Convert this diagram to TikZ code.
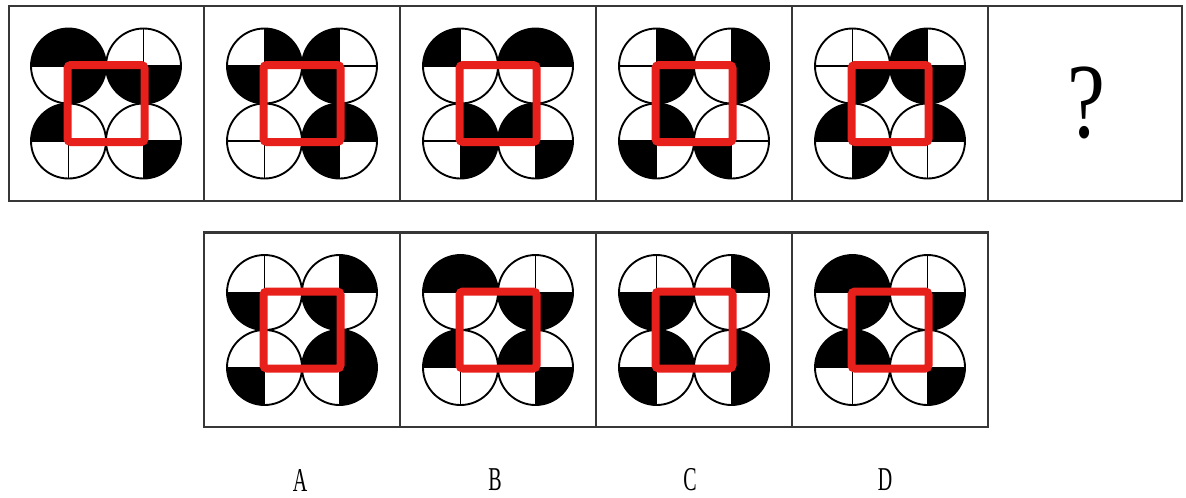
\documentclass[tikz,border=0pt]{standalone}
\usepackage{fontspec}
\setmainfont{Liberation Serif}
\newfontfamily\narrowserif[FakeStretch=0.6]{Liberation Serif}
\newfontfamily\qserif[FakeStretch=0.8]{Liberation Serif}
\definecolor{sqred}{RGB}{232,32,28}
\definecolor{framegray}{RGB}{55,55,55}
\tikzset{
  circ/.style={draw=black,line width=1.4pt},
  redsq/.style={draw=sqred,line width=6pt,rounded corners=2.5pt},
  frame/.style={draw=framegray,line width=1.6pt},
  lab/.style={font=\narrowserif\fontsize{25}{25}\selectfont,inner sep=1pt},
  qmark/.style={font=\qserif\fontsize{80}{80}\selectfont,inner sep=1pt}
}
\newcommand{\drawpanel}[3]{%
  \begin{scope}[shift={(#1,#2)}]
    \foreach \dx/\dy/\a in {#3} {
      \fill[black] (\dx*37.5,\dy*37.5) -- ++(\a:37.5) arc[start angle=\a,delta angle=90,radius=37.5] -- cycle;
    }
    \foreach \dx/\dy in {-1/1,1/1,-1/-1,1/-1} {
      \draw[circ] (\dx*37.5,\dy*37.5) circle[radius=37.5];
      \draw[circ] (\dx*37.5-37.5,\dy*37.5) -- ++(75,0);
      \draw[circ] (\dx*37.5,\dy*37.5-37.5) -- ++(0,75);
    }
    \draw[redsq] (-38.5,-38.5) rectangle (38.5,38.5);
  \end{scope}}
\begin{document}
\begin{tikzpicture}[x=0.75pt,y=0.75pt]
\useasboundingbox[fill=white] (0,0) rectangle (1186,-497);
% top row frames
\draw[frame] (9,-6) rectangle (1182,-201);
\foreach \x in {204,400,596,792,988} \draw[frame] (\x,-6) -- (\x,-201);
% bottom row frames
\draw[frame] (204,-232.5) rectangle (988,-427);
\foreach \x in {400,596,792} \draw[frame] (\x,-232.5) -- (\x,-427);
% top row patterns
\drawpanel{106}{-103.5}{-1/1/90,-1/1/0,-1/1/270,1/1/180,1/1/270,-1/-1/90,1/-1/270}
\drawpanel{302}{-103.5}{-1/1/0,-1/1/180,1/1/90,1/1/180,1/-1/90,1/-1/0,1/-1/180}
\drawpanel{498}{-103.5}{-1/1/90,1/1/90,1/1/0,-1/-1/0,-1/-1/270,1/-1/90,1/-1/270}
\drawpanel{694}{-103.5}{-1/1/0,-1/1/270,1/1/0,1/1/270,-1/-1/0,-1/-1/180,1/-1/180}
\drawpanel{890}{-103.5}{-1/1/270,1/1/90,1/1/180,1/1/270,-1/-1/90,-1/-1/270,1/-1/0}
\node[qmark] (q) at (1086,-103) {?};
% options
\drawpanel{302}{-330}{-1/1/180,1/1/0,1/1/180,-1/-1/180,1/-1/90,1/-1/0,1/-1/270}
\drawpanel{498}{-330}{-1/1/90,-1/1/0,1/1/180,1/1/270,-1/-1/90,1/-1/90,1/-1/270}
\drawpanel{694}{-330}{-1/1/180,-1/1/270,1/1/0,-1/-1/0,-1/-1/180,1/-1/0,1/-1/270}
\drawpanel{890}{-330}{-1/1/90,-1/1/0,-1/1/270,1/1/270,-1/-1/90,-1/-1/0,1/-1/270}
% labels
\node[lab] (la) at (300,-480) {A};
\node[lab] (lb) at (495,-480) {B};
\node[lab] (lc) at (690,-480) {C};
\node[lab] (ld) at (885,-480) {D};
\end{tikzpicture}
\end{document}
